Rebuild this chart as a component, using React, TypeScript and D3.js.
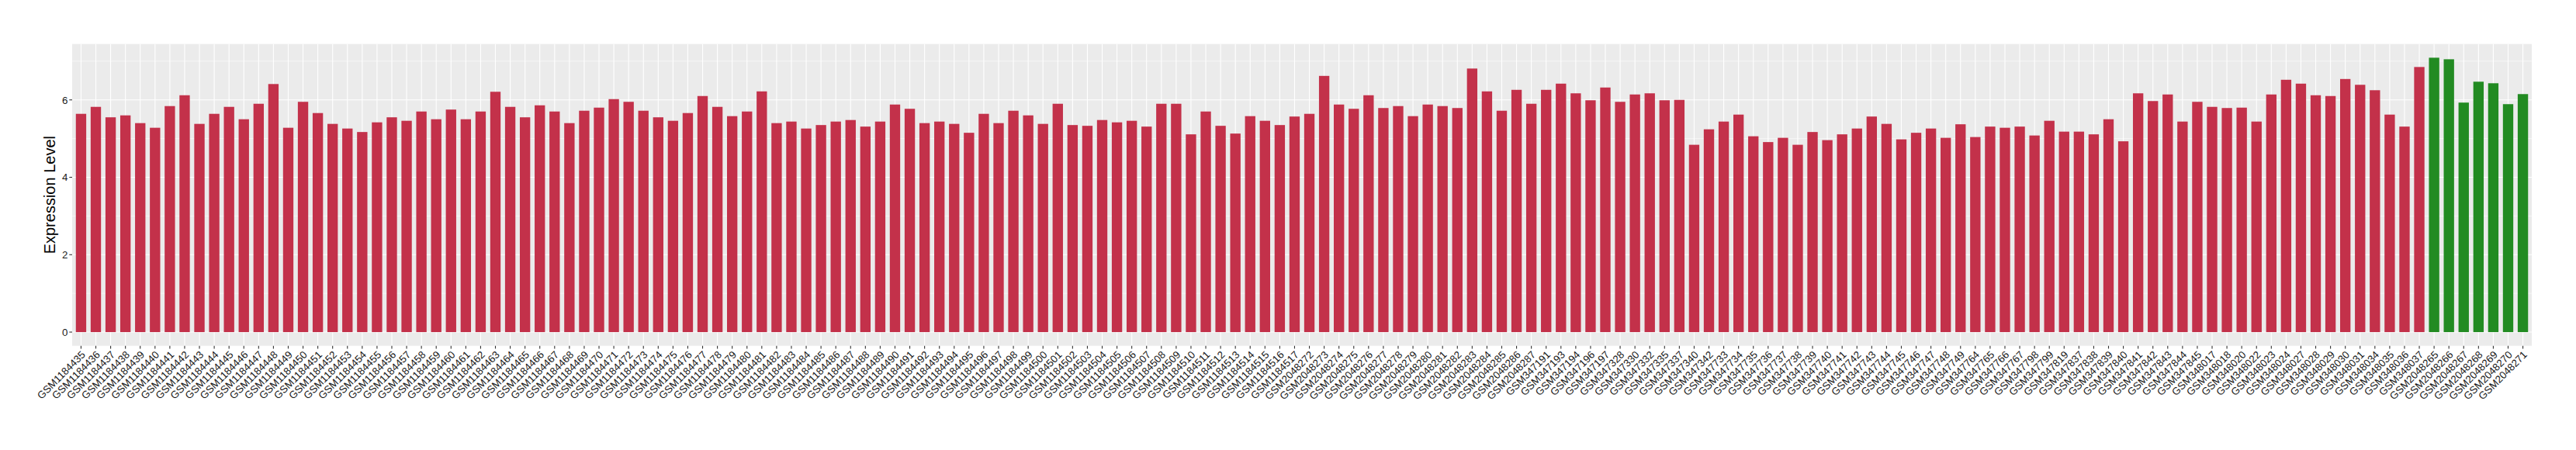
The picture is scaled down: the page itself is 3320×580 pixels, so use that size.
import React from "react";
import * as d3 from "d3";

const samples: string[] = [
  "GSM1184435","GSM1184436","GSM1184437","GSM1184438","GSM1184439","GSM1184440","GSM1184441","GSM1184442","GSM1184443","GSM1184444",
  "GSM1184445","GSM1184446","GSM1184447","GSM1184448","GSM1184449","GSM1184450","GSM1184451","GSM1184452","GSM1184453","GSM1184454",
  "GSM1184455","GSM1184456","GSM1184457","GSM1184458","GSM1184459","GSM1184460","GSM1184461","GSM1184462","GSM1184463","GSM1184464",
  "GSM1184465","GSM1184466","GSM1184467","GSM1184468","GSM1184469","GSM1184470","GSM1184471","GSM1184472","GSM1184473","GSM1184474",
  "GSM1184475","GSM1184476","GSM1184477","GSM1184478","GSM1184479","GSM1184480","GSM1184481","GSM1184482","GSM1184483","GSM1184484",
  "GSM1184485","GSM1184486","GSM1184487","GSM1184488","GSM1184489","GSM1184490","GSM1184491","GSM1184492","GSM1184493","GSM1184494",
  "GSM1184495","GSM1184496","GSM1184497","GSM1184498","GSM1184499","GSM1184500","GSM1184501","GSM1184502","GSM1184503","GSM1184504",
  "GSM1184505","GSM1184506","GSM1184507","GSM1184508","GSM1184509","GSM1184510","GSM1184511","GSM1184512","GSM1184513","GSM1184514",
  "GSM1184515","GSM1184516","GSM1184517",
  "GSM2048272","GSM2048273","GSM2048274","GSM2048275","GSM2048276","GSM2048277","GSM2048278","GSM2048279","GSM2048280","GSM2048281",
  "GSM2048282","GSM2048283","GSM2048284","GSM2048285","GSM2048286","GSM2048287",
  "GSM347191","GSM347193","GSM347194","GSM347196","GSM347197",
  "GSM347328","GSM347330","GSM347332","GSM347335","GSM347337","GSM347340","GSM347342",
  "GSM347733","GSM347734","GSM347735","GSM347736","GSM347737","GSM347738","GSM347739","GSM347740","GSM347741","GSM347742",
  "GSM347743","GSM347744","GSM347745","GSM347746","GSM347747","GSM347748","GSM347749",
  "GSM347764","GSM347765","GSM347766","GSM347767",
  "GSM347798","GSM347799","GSM347819","GSM347837","GSM347838","GSM347839","GSM347840","GSM347841","GSM347842","GSM347843",
  "GSM347844","GSM347845",
  "GSM348017","GSM348018","GSM348020","GSM348022","GSM348023","GSM348024","GSM348027","GSM348028","GSM348029","GSM348030",
  "GSM348031","GSM348034","GSM348035","GSM348036","GSM348037",
  "GSM2048265","GSM2048266","GSM2048267","GSM2048268","GSM2048269","GSM2048270","GSM2048271",
];

const values: number[] = [
  5.64,5.82,5.55,5.60,5.40,5.28,5.84,6.12,5.38,5.64,
  5.82,5.50,5.90,6.41,5.28,5.95,5.66,5.38,5.26,5.17,
  5.42,5.55,5.46,5.70,5.50,5.75,5.50,5.70,6.21,5.82,
  5.55,5.86,5.70,5.40,5.72,5.80,6.02,5.95,5.72,5.55,
  5.46,5.66,6.10,5.82,5.58,5.70,6.22,5.40,5.44,5.26,
  5.35,5.44,5.48,5.31,5.44,5.88,5.77,5.40,5.44,5.38,
  5.15,5.64,5.40,5.72,5.60,5.38,5.90,5.35,5.33,5.48,
  5.42,5.46,5.31,5.90,5.90,5.11,5.70,5.33,5.13,5.58,
  5.46,5.35,5.57,
  5.64,6.62,5.88,5.77,6.12,5.79,5.84,5.58,5.88,5.84,
  5.79,6.81,6.22,5.72,6.26,5.90,
  6.26,6.42,6.17,5.99,6.32,
  5.95,6.14,6.17,5.99,6.00,4.84,5.24,
  5.44,5.62,5.06,4.91,5.02,4.84,5.17,4.96,5.11,5.26,
  5.57,5.38,4.98,5.15,5.26,5.02,5.37,
  5.04,5.31,5.28,5.31,
  5.08,5.46,5.18,5.18,5.11,5.50,4.93,6.17,5.97,6.14,
  5.44,5.95,
  5.82,5.79,5.80,5.44,6.14,6.52,6.42,6.12,6.10,6.54,
  6.39,6.25,5.62,5.31,6.85,
  7.09,7.05,5.93,6.47,6.43,5.89,6.15,
];

const groups: string[] = samples.map((_, i) => (i >= samples.length - 7 ? "normal" : "tumor"));
const groupColors: Record<string, string> = { tumor: "#C3314A", normal: "#228B22" };

const yTicks: number[] = [0, 2, 4, 6];
const yMinor: number[] = [1, 3, 5, 7];
const yTitle = "Expression Level";

const W = 3320;
const H = 580;
const panel = { left: 93, right: 3263, top: 56.7, bottom: 445.7 };
const FONT = "'Liberation Sans', Arial, Helvetica, sans-serif";

export default function App() {
  const maxV = d3.max(values) as number;
  const pad = maxV * 0.05;
  const y = d3.scaleLinear().domain([-pad, maxV + pad]).range([panel.bottom, panel.top]);
  const x = d3
    .scaleBand<string>()
    .domain(samples)
    .range([panel.left, panel.right])
    .paddingInner(0.3)
    .paddingOuter(0.25)
    .align(0.5);
  const bw = x.bandwidth();
  const cx = (s: string) => (x(s) as number) + bw / 2;

  return (
    <svg
      width={W}
      height={H}
      style={{ position: "absolute", left: 0, top: 0, background: "#fff" }}
      fontFamily={FONT}
    >
      <rect x={0} y={0} width={W} height={H} fill="#fff" />
      <rect
        x={panel.left}
        y={panel.top}
        width={panel.right - panel.left}
        height={panel.bottom - panel.top}
        fill="#EBEBEB"
      />
      {yMinor.map((t) => (
        <line key={"mn" + t} x1={panel.left} x2={panel.right} y1={y(t)} y2={y(t)} stroke="#fff" strokeWidth={0.6} />
      ))}
      {yTicks.map((t) => (
        <line key={"mj" + t} x1={panel.left} x2={panel.right} y1={y(t)} y2={y(t)} stroke="#fff" strokeWidth={1.1} />
      ))}
      {samples.map((s) => (
        <line key={"vg" + s} x1={cx(s)} x2={cx(s)} y1={panel.top} y2={panel.bottom} stroke="#fff" strokeWidth={1.1} />
      ))}
      {samples.map((s, i) => (
        <rect
          key={"b" + s}
          x={x(s) as number}
          y={y(values[i])}
          width={bw}
          height={y(0) - y(values[i])}
          fill={groupColors[groups[i]]}
        />
      ))}
      {yTicks.map((t) => (
        <g key={"yt" + t}>
          <line x1={panel.left - 3.7} x2={panel.left} y1={y(t)} y2={y(t)} stroke="#333" strokeWidth={1.1} />
          <text x={panel.left - 5.7} y={y(t)} dy="0.36em" textAnchor="end" fontSize={13.3} fill="#1A1A1A">
            {t}
          </text>
        </g>
      ))}
      {samples.map((s) => (
        <g key={"xt" + s}>
          <line x1={cx(s)} x2={cx(s)} y1={panel.bottom} y2={panel.bottom + 3.7} stroke="#333" strokeWidth={1.1} />
          <text
            transform={`translate(${cx(s) - 0.5},${panel.bottom + 5.5}) rotate(-45)`}
            textAnchor="end"
            dy="0.72em"
            fontSize={13.3}
            fill="#1A1A1A"
          >
            {s}
          </text>
        </g>
      ))}
      <text
        transform={`translate(71,${(panel.top + panel.bottom) / 2}) rotate(-90)`}
        textAnchor="middle"
        fontSize={20}
        fill="#000"
      >
        {yTitle}
      </text>
    </svg>
  );
}
